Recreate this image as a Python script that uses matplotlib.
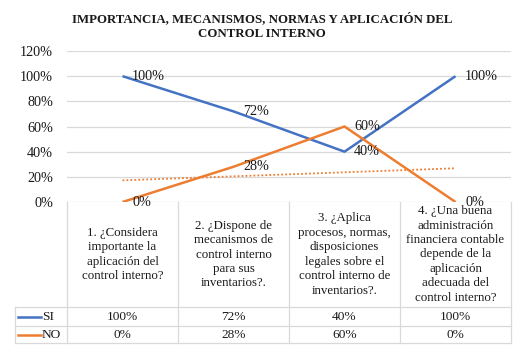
import matplotlib.pyplot as plt
import numpy as np

plt.rcParams["font.family"] = ["Liberation Serif", "DejaVu Serif"]

questions = [
    "1. ¿Considera\nimportante la\naplicación del\ncontrol interno?",
    "2. ¿Dispone de\nmecanismos de\ncontrol interno\npara sus\ninventarios?.",
    "3. ¿Aplica\nprocesos, normas,\ndisposiciones\nlegales sobre el\ncontrol interno de\ninventarios?.",
    "4. ¿Una buena\nadministración\nfinanciera contable\ndepende de la\naplicación\nadecuada del\ncontrol interno?",
]
si = [100, 72, 40, 100]
no = [0, 28, 60, 0]
series_names = ["SI", "NO"]
colors = ["#4472C4", "#ED7D31"]
grid_col = "#D9D9D9"
txt_col = "#1a1a1a"

W, H = 519, 348
fig = plt.figure(figsize=(W / 100, H / 100), dpi=100)
# plot area in pixels: x 67..511, y 51..202
ax = fig.add_axes([67 / W, (H - 202) / H, 444 / W, 151 / H])

x = np.arange(1, len(si) + 1)
ax.plot(x, si, color=colors[0], lw=1.8, solid_capstyle="butt")
ax.plot(x, no, color=colors[1], lw=1.8, solid_capstyle="butt")

# linear trendline of NO series
k, b = np.polyfit(x, no, 1)
ax.plot(x, k * x + b, color=colors[1], lw=1.3, ls=(0, (1, 1.2)))

for vals in (si, no):
    for xi, v in zip(x, vals):
        ax.annotate(f"{v}%", (xi, v), xytext=(7, 0), textcoords="offset points",
                    ha="left", va="center", fontsize=10.2, color=txt_col)

ax.set_xlim(0.5, len(si) + 0.5)
ax.set_ylim(0, 120)
ax.set_yticks(range(0, 121, 20))
ax.set_yticklabels([f"{t}%" for t in range(0, 121, 20)], fontsize=10.2, color=txt_col)
ax.set_xticks([])
ax.tick_params(axis="y", length=0, pad=10)
ax.grid(axis="y", color=grid_col, lw=0.9)
ax.set_axisbelow(True)
for s in ax.spines.values():
    s.set_visible(False)

fig.text(262 / W, 1 - 26 / H,
         "IMPORTANCIA, MECANISMOS, NORMAS Y APLICACIÓN DEL\nCONTROL INTERNO",
         ha="center", va="center", fontsize=9.3, fontweight="bold", color=txt_col,
         linespacing=1.25)

# data table below the axis
def fy(py):
    return (202 - py) / 151

def fx(px):
    return (px - 67) / 444

trans = ax.get_xaxis_transform()
tr_ax = ax.transAxes
row_top, row_mid1, row_mid2, row_bot = 202, 307, 326, 343
bounds = np.arange(0.5, len(si) + 1)
lkw = dict(color=grid_col, lw=0.9, clip_on=False)

# vertical borders
for xb in bounds:
    ax.plot([xb, xb], [fy(row_top), fy(row_bot)], transform=trans, **lkw)
ax.plot([fx(15), fx(15)], [fy(row_mid1), fy(row_bot)], transform=tr_ax, **lkw)
# horizontal borders
for py in (row_mid1, row_mid2, row_bot):
    ax.plot([fx(15), 1], [fy(py), fy(py)], transform=tr_ax, **lkw)

for xi, q in zip(x, questions):
    ax.text(xi, fy(254.5), q, transform=trans, ha="center",
            va="center", fontsize=9.25, linespacing=1.27, color=txt_col)

for r, (name, vals, c) in enumerate(zip(series_names, (si, no), colors)):
    yc = fy(((row_mid1, row_mid2)[r] + (row_mid2, row_bot)[r]) / 2)
    ax.plot([fx(18), fx(41)], [yc, yc], color=c, lw=1.8,
            transform=tr_ax, clip_on=False)
    ax.text(fx(42), yc, name, transform=tr_ax, ha="left", va="center",
            fontsize=9.6, color=txt_col)
    for xi, v in zip(x, vals):
        ax.text(xi, yc, f"{v}%", transform=trans, ha="center", va="center",
                fontsize=9.6, color=txt_col)

fig.savefig("out.png", dpi=100)
